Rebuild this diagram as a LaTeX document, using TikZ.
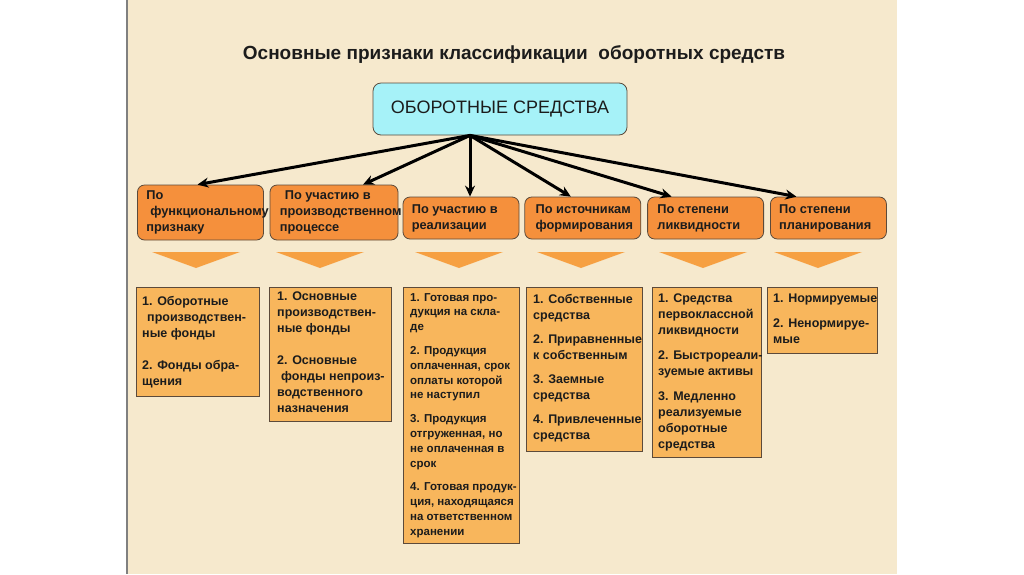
\documentclass[tikz,border=0pt]{standalone}
\usepackage{fontspec}
\setmainfont{Liberation Sans}
\usetikzlibrary{arrows.meta,positioning}
\definecolor{slidebg}{HTML}{F6E9CD}
\definecolor{headfill}{HTML}{F5903C}
\definecolor{listfill}{HTML}{F8B65C}
\definecolor{trifill}{HTML}{F6A042}
\definecolor{rootfill}{HTML}{A6F2F8}
\definecolor{edge}{HTML}{5C4A3A}
\definecolor{txt}{HTML}{1C1C1C}
\begin{document}
\begin{tikzpicture}[x=1pt, y=-1pt,
    head/.style={draw=edge, fill=headfill, rounded corners=7pt, line width=0.8pt, inner sep=0pt},
    headtext/.style={anchor=west, align=left, inner sep=0pt, font=\bfseries\fontsize{12.8}{16}\selectfont, text=txt},
    listbox/.style={draw=edge, fill=listfill, line width=0.8pt, anchor=north west, inner sep=0pt},
    listtext/.style={anchor=north west, align=left, inner sep=0pt, font=\bfseries\fontsize{12.5}{16}\selectfont, text=txt},
    marker/.style={fill=trifill},
    conn/.style={line width=3pt, -{Stealth[length=11pt,width=10pt]}}]
    \useasboundingbox (0,0) rectangle (1024,574);
    \fill[white] (0,0) rectangle (1024,574);
    \fill[slidebg] (127,0) rectangle (897,574);
    \draw[gray, line width=1.5pt] (127,0) -- (127,574);

    \node[anchor=base, font=\bfseries\fontsize{19}{22}\selectfont, text=txt] (title) at (514,59) {Основные признаки классификации\ \ оборотных средств};
    \node[draw=edge, fill=rootfill, rounded corners=8pt, line width=0.8pt, minimum width=254pt, minimum height=52pt, font=\fontsize{18}{20}\selectfont, text=txt] (root) at (500,109) {ОБОРОТНЫЕ СРЕДСТВА};
    \coordinate (src) at ([xshift=-30pt]root.south);

    \node[head, minimum width=126pt, minimum height=55pt] (b1) at (200.5,212.5) {};
    \node[head, minimum width=128pt, minimum height=55pt] (b2) at (334,212.5) {};
    \node[head, minimum width=116pt, minimum height=42pt] (b3) at (461,218) {};
    \node[head, minimum width=116pt, minimum height=42pt, right=5pt of b3] (b4) {};
    \node[head, minimum width=116pt, minimum height=42pt, right=6pt of b4] (b5) {};
    \node[head, minimum width=116pt, minimum height=42pt, right=6pt of b5] (b6) {};
    \node[headtext] (b1txt) at ([xshift=9pt]b1.west) {По\\\hspace*{4pt}функциональному\\признаку};
    \node[headtext] (b2txt) at ([xshift=10pt]b2.west) {\hspace*{5pt}По участию в\\производственном\\процессе};
    \node[headtext] (b3txt) at ([xshift=9pt]b3.west) {По участию в\\реализации};
    \node[headtext] (b4txt) at ([xshift=11pt]b4.west) {По источникам\\формирования};
    \node[headtext] (b5txt) at ([xshift=10pt]b5.west) {По степени\\ликвидности};
    \node[headtext] (b6txt) at ([xshift=9pt]b6.west) {По степени\\планирования};

    \foreach \c in {196,320,459,581,703,818}
        \fill[marker] (\c-44,252) -- (\c+44,252) -- (\c,268) -- cycle;

    \node[listbox, minimum width=123pt, minimum height=109pt] (l1) at (136,287) {};
    \node[listbox, minimum width=122pt, minimum height=134pt] (l2) at (269,287) {};
    \node[listbox, minimum width=116pt, minimum height=256pt] (l3) at (403,287) {};
    \node[listbox, minimum width=116pt, minimum height=164pt] (l4) at (526,287) {};
    \node[listbox, minimum width=109pt, minimum height=170pt] (l5) at (652,287) {};
    \node[listbox, minimum width=110pt, minimum height=66pt] (l6) at (767,287) {};

    \node[listtext] (l1txt) at ([xshift=6pt,yshift=-9pt]l1.north west) {1. Оборотные\\\hspace*{5pt}производствен-\\ные фонды\\[16pt]2. Фонды обра-\\щения};
    \node[listtext] (l2txt) at ([xshift=8pt,yshift=-5pt]l2.north west) {1. Основные\\производствен-\\ные фонды\\[16pt]2. Основные\\\hspace*{4pt}фонды непроиз-\\водственного\\назначения};
    \node[listtext, font=\bfseries\fontsize{11.5}{14.8}\selectfont] (l3txt) at ([xshift=7pt,yshift=-6pt]l3.north west) {1. Готовая про-\\дукция на скла-\\де\\[9pt]2. Продукция\\оплаченная, срок\\оплаты которой\\не наступил\\[9pt]3. Продукция\\отгруженная, но\\не оплаченная в\\срок\\[9pt]4. Готовая продук-\\ция, находящаяся\\на ответственном\\хранении};
    \node[listtext] (l4txt) at ([xshift=7pt,yshift=-7pt]l4.north west) {1. Собственные\\средства\\[8pt]2. Приравненные\\к собственным\\[8pt]3. Заемные\\средства\\[8pt]4. Привлеченные\\средства};
    \node[listtext] (l5txt) at ([xshift=6pt,yshift=-7pt]l5.north west) {1. Средства\\первоклассной\\ликвидности\\[9pt]2. Быстрореали-\\зуемые активы\\[9pt]3. Медленно\\реализуемые\\оборотные\\средства};
    \node[listtext] (l6txt) at ([xshift=6pt,yshift=-7pt]l6.north west) {1. Нормируемые\\[9pt]2. Ненормируе-\\мые};

    \foreach \n/\dx in {b1/-3,b2/29,b3/9,b4/-12,b5/-34,b6/-32}
        \draw[conn] (src) -- ([xshift=\dx pt]\n.north);
\end{tikzpicture}
\end{document}
